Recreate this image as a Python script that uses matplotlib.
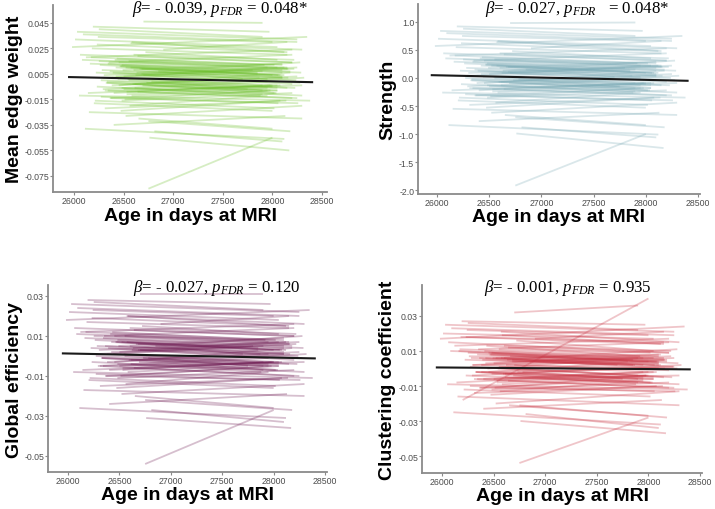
import numpy as np
import matplotlib
matplotlib.use("Agg")
import matplotlib.pyplot as plt

plt.rcParams['mathtext.fontset'] = 'custom'
plt.rcParams['mathtext.rm'] = 'Liberation Serif'
plt.rcParams['mathtext.it'] = 'Liberation Serif:italic'

# age (days) at first and last MRI for each subject
age_first = [26010, 26120, 26250, 26340, 26480, 26560, 26180, 26300, 26650, 26420,
             26050, 26230, 26380, 26510, 26600, 26700, 26150, 26280, 26450, 26550,
             26090, 26320, 26400, 26630, 26720, 26200, 26350, 26480, 26580, 26810,
             25980, 26140, 26270, 26430, 26520, 26680, 26760, 26240, 26370, 26500,
             26060, 26190, 26310, 26460, 26610, 26900, 26750, 26160, 26290, 26540,
             26030, 26210, 26360, 26470, 26640, 26330, 26570, 26110, 26410, 26750,
             26220, 26380, 26520, 26640, 26290, 26450, 26580, 26700, 26330, 26490,
             26610, 26260, 26400, 26550, 26680, 26310, 26470, 26590, 26850, 26360,
             26080, 26230, 26420, 26530, 26660, 26780, 26340, 26500, 26620, 26270,
             26440, 26570, 26690, 26390, 26530, 26170, 26480, 26600, 26730, 26250]
age_last = [28050, 28200, 27900, 28300, 28100, 27950, 28150, 28250, 28000, 27850,
            28380, 28120, 28050, 27980, 28220, 27900, 28300, 28100, 28180, 28020,
            28250, 27950, 28130, 28280, 28050, 28000, 28200, 27880, 28150, 28100,
            28350, 28080, 28230, 27920, 28300, 28060, 28170, 28000, 28260, 28120,
            28200, 27970, 28140, 28290, 28040, 28150, 28180, 28100, 28320, 27900,
            28250, 28020, 28160, 28080, 28200, 27950, 28300, 28120, 28050, 28000,
            27950, 28100, 28000, 28250, 27800, 28150, 28050, 28200, 27900, 28100,
            28300, 27850, 28000, 28150, 27950, 28200, 28080, 28250, 27700, 28050,
            28150, 27900, 28220, 28000, 28100, 27750, 28180, 27950, 28280, 28060,
            27900, 28120, 28020, 28240, 27980, 28100, 28200, 27870, 28050, 28160]

# mean edge weight
mew_first = [0.032, 0.018, 0.040, -0.008, 0.012, -0.020, 0.025, 0.004, -0.030, 0.010,
             -0.012, 0.028, 0.002, -0.015, 0.020, 0.046, -0.025, 0.008, -0.004, 0.015,
             0.036, -0.002, -0.035, 0.006, 0.022, -0.018, 0.014, -0.006, 0.030, -0.040,
             0.026, -0.010, 0.000, 0.017, -0.028, 0.009, -0.045, 0.034, -0.014, 0.003,
             0.020, 0.042, -0.022, 0.011, -0.003, 0.024, -0.032, 0.013, -0.007, 0.001,
             0.038, -0.016, 0.007, -0.024, 0.019, -0.001, 0.029, -0.038, 0.016, -0.085,
             0.006, -0.004, 0.010, -0.009, 0.002, 0.014, -0.012, 0.004, -0.002, 0.008,
             -0.006, 0.012, -0.010, 0.000, 0.005, -0.008, 0.011, -0.003, 0.007, -0.014,
             0.016, -0.005, 0.003, -0.011, 0.009, -0.001, 0.013, -0.007, 0.004, -0.013,
             0.001, 0.010, -0.004, 0.006, -0.009, 0.018, -0.016, 0.008, -0.002, 0.015]
mew_last = [0.026, 0.024, 0.034, -0.004, 0.006, -0.012, 0.020, 0.010, -0.038, 0.005,
            -0.016, 0.022, -0.004, -0.008, 0.016, 0.045, -0.030, 0.003, 0.006, 0.012,
            0.030, -0.008, -0.028, 0.014, 0.016, -0.024, 0.020, -0.012, 0.022, -0.048,
            0.034, -0.004, -0.006, 0.012, -0.020, 0.004, -0.055, 0.030, -0.018, 0.010,
            0.014, 0.038, -0.016, 0.006, -0.010, 0.030, -0.040, 0.008, 0.002, -0.004,
            0.032, -0.022, 0.002, -0.016, 0.014, -0.006, 0.024, -0.046, 0.010, -0.045,
            0.001, 0.002, 0.004, -0.014, 0.008, 0.009, -0.006, -0.003, -0.008, 0.013,
            -0.012, 0.006, -0.004, -0.006, 0.010, -0.014, 0.004, 0.003, 0.001, -0.008,
            0.010, -0.011, 0.009, -0.005, 0.002, -0.007, 0.007, -0.001, -0.002, -0.018,
            0.007, 0.004, -0.010, 0.000, -0.004, 0.012, -0.010, 0.002, -0.008, 0.009]

# strength
str_first = [0.70, 0.40, 0.88, -0.18, 0.26, -0.44, 0.55, 0.09, -0.66, 0.22,
             -0.26, 0.62, 0.04, -0.33, 0.44, 0.98, -0.55, 0.18, -0.09, 0.33,
             0.80, -0.04, -0.77, 0.13, 0.48, -0.40, 0.31, -0.13, 0.66, -0.88,
             0.57, -0.22, 0.00, 0.37, -0.62, 0.20, -0.99, 0.75, -0.31, 0.07,
             0.44, 0.92, -0.48, 0.24, -0.07, 0.53, -0.70, 0.29, -0.15, 0.02,
             0.84, -0.35, 0.15, -0.53, 0.42, -0.02, 0.64, -0.84, 0.35, -1.92,
             0.13, -0.09, 0.22, -0.20, 0.04, 0.31, -0.26, 0.09, -0.04, 0.18,
             -0.13, 0.26, -0.22, 0.00, 0.11, -0.18, 0.24, -0.07, 0.15, -0.31,
             0.35, -0.11, 0.07, -0.24, 0.20, -0.02, 0.29, -0.15, 0.09, -0.29,
             0.02, 0.22, -0.09, 0.13, -0.20, 0.40, -0.35, 0.18, -0.04, 0.33]
str_last = [0.57, 0.53, 0.75, -0.09, 0.13, -0.26, 0.44, 0.22, -0.84, 0.11,
            -0.35, 0.48, -0.09, -0.18, 0.35, 0.99, -0.66, 0.07, 0.13, 0.26,
            0.66, -0.18, -0.62, 0.31, 0.35, -0.53, 0.44, -0.26, 0.48, -1.06,
            0.75, -0.09, -0.13, 0.26, -0.44, 0.09, -1.25, 0.66, -0.40, 0.22,
            0.31, 0.84, -0.35, 0.13, -0.22, 0.66, -0.88, 0.18, 0.04, -0.09,
            0.70, -0.48, 0.04, -0.35, 0.31, -0.13, 0.53, -1.01, 0.22, -1.00,
            0.02, 0.04, 0.09, -0.31, 0.18, 0.20, -0.13, -0.07, -0.18, 0.29,
            -0.26, 0.13, -0.09, -0.13, 0.22, -0.31, 0.09, 0.07, 0.02, -0.18,
            0.22, -0.24, 0.20, -0.11, 0.04, -0.15, 0.15, -0.02, -0.04, -0.40,
            0.15, 0.09, -0.22, 0.00, -0.09, 0.26, -0.22, 0.04, -0.18, 0.20]

# global efficiency
geff_first = [0.022, 0.012, 0.027, -0.005, 0.008, -0.014, 0.017, 0.003, -0.020, 0.007,
              -0.008, 0.019, 0.001, -0.010, 0.014, 0.031, -0.017, 0.005, -0.003, 0.010,
              0.024, -0.001, -0.024, 0.004, 0.015, -0.012, 0.010, -0.004, 0.020, -0.027,
              0.018, -0.007, 0.000, 0.012, -0.019, 0.006, -0.031, 0.023, -0.010, 0.002,
              0.014, 0.028, -0.015, 0.007, -0.002, 0.016, -0.022, 0.009, -0.005, 0.001,
              0.026, -0.011, 0.005, -0.016, 0.013, -0.001, 0.020, -0.026, 0.011, -0.054,
              0.004, -0.003, 0.007, -0.006, 0.001, 0.010, -0.008, 0.003, -0.001, 0.005,
              -0.004, 0.008, -0.007, 0.000, 0.003, -0.005, 0.007, -0.002, 0.005, -0.010,
              0.011, -0.003, 0.002, -0.007, 0.006, -0.001, 0.009, -0.005, 0.003, -0.009,
              0.001, 0.007, -0.003, 0.004, -0.006, 0.012, -0.011, 0.005, -0.001, 0.010]
geff_last = [0.018, 0.016, 0.023, -0.003, 0.004, -0.008, 0.014, 0.007, -0.026, 0.003,
             -0.011, 0.015, -0.003, -0.005, 0.011, 0.031, -0.020, 0.002, 0.004, 0.008,
             0.020, -0.005, -0.019, 0.010, 0.011, -0.016, 0.014, -0.008, 0.015, -0.033,
             0.023, -0.003, -0.004, 0.008, -0.014, 0.003, -0.036, 0.020, -0.012, 0.007,
             0.010, 0.026, -0.011, 0.004, -0.007, 0.020, -0.027, 0.005, 0.001, -0.003,
             0.022, -0.015, 0.001, -0.011, 0.010, -0.004, 0.016, -0.031, 0.007, -0.027,
             0.001, 0.001, 0.003, -0.010, 0.005, 0.006, -0.004, -0.002, -0.005, 0.009,
             -0.008, 0.004, -0.003, -0.004, 0.007, -0.010, 0.003, 0.002, 0.001, -0.005,
             0.007, -0.007, 0.006, -0.003, 0.001, -0.005, 0.005, -0.001, -0.001, -0.012,
             0.005, 0.003, -0.007, 0.000, -0.003, 0.008, -0.007, 0.001, -0.005, 0.006]

# clustering coefficient
clus_first = [0.020, 0.013, 0.026, -0.006, 0.009, -0.013, 0.018, 0.002, -0.021, 0.006,
              -0.009, 0.018, 0.002, -0.011, 0.013, 0.032, -0.016, 0.006, -0.002, 0.011,
              0.023, -0.002, -0.023, 0.005, 0.016, -0.018, 0.011, -0.003, 0.019, -0.026,
              0.017, -0.008, 0.001, 0.013, -0.020, 0.005, -0.030, 0.022, -0.011, 0.003,
              0.015, 0.027, -0.014, 0.008, -0.003, 0.017, -0.021, 0.010, -0.004, 0.000,
              0.025, -0.012, 0.006, -0.015, 0.012, -0.002, 0.021, -0.025, 0.010, -0.054,
              0.005, -0.002, 0.006, -0.007, 0.002, 0.009, -0.009, 0.002, -0.002, 0.006,
              -0.005, 0.007, -0.006, 0.001, 0.004, -0.006, 0.008, -0.003, 0.004, -0.011,
              0.010, -0.004, 0.003, -0.008, 0.007, -0.002, 0.008, -0.006, 0.002, -0.010,
              0.000, 0.006, -0.004, 0.005, -0.007, 0.011, -0.012, 0.006, -0.002, 0.009]
clus_last = [0.017, 0.017, 0.022, -0.004, 0.003, -0.007, 0.015, 0.006, -0.027, 0.002,
             -0.012, 0.014, -0.002, -0.004, 0.010, 0.036, -0.021, 0.003, 0.005, 0.009,
             0.019, -0.006, -0.018, 0.011, 0.010, 0.040, 0.015, -0.009, 0.014, -0.034,
             0.024, -0.002, -0.005, 0.007, -0.013, 0.002, -0.037, 0.019, -0.013, 0.008,
             0.009, 0.025, -0.010, 0.003, -0.008, 0.021, -0.028, 0.004, 0.002, -0.004,
             0.021, -0.016, 0.000, -0.010, 0.009, -0.005, 0.015, -0.032, 0.006, -0.028,
             0.002, 0.000, 0.004, -0.011, 0.004, 0.005, -0.005, -0.001, -0.006, 0.008,
             -0.009, 0.005, -0.002, -0.005, 0.006, -0.011, 0.004, 0.001, 0.002, -0.006,
             0.006, -0.008, 0.007, -0.004, 0.002, -0.006, 0.004, -0.002, 0.000, -0.013,
             0.006, 0.002, -0.008, 0.001, -0.004, 0.007, -0.008, 0.002, -0.006, 0.005]

# group-level fit lines (end points)
fit_age = [25950, 28400]
mew_fit = [0.0025, -0.0015]
str_fit = [0.05, -0.05]
geff_fit = [0.0013, -0.0012]
clus_fit = [0.0006, -0.0005]

xticks = [26000, 26500, 27000, 27500, 28000, 28500]
mew_ticks = [0.045, 0.025, 0.005, -0.015, -0.035, -0.055, -0.075]
mew_labels = ["0.045", "0.025", "0.005", "-0.015", "-0.035", "-0.055", "-0.075"]
str_ticks = [1.0, 0.5, 0.0, -0.5, -1.0, -1.5, -2.0]
str_labels = ["1.0", "0.5", "0.0", "-0.5", "-1.0", "-1.5", "-2.0"]
small_ticks = [0.03, 0.01, -0.01, -0.03, -0.05]
small_labels = ["0.03", "0.01", "-0.01", "-0.03", "-0.05"]

stats = [r"$\beta$= - 0.039, $p_{FDR}$ = 0.048*",
         r"$\beta$= - 0.027, $p_{FDR}$   = 0.048*",
         r"$\beta$= - 0.027, $p_{FDR}$ = 0.120",
         r"$\beta$= - 0.001, $p_{FDR}$ = 0.935"]

W, H = 715, 510
fig = plt.figure(figsize=(W / 100, H / 100), dpi=100)


def px_axes(left, top, right, bottom):
    return fig.add_axes([left / W, 1 - bottom / H, (right - left) / W, (bottom - top) / H])


panels = [
    dict(box=(53, 6, 327, 193), xlim=(25788, 28550), ylim=(-0.0876, 0.059),
         first=mew_first, last=mew_last, fit=mew_fit, color="#6cbf2a",
         yt=mew_ticks, ytl=mew_labels, ylabel="Mean edge weight",
         ylab_x=15, xlab_y=221, stat=stats[0], stat_xy=(220, 13)),
    dict(box=(418, 5, 700, 195), xlim=(25818, 28519), ylim=(-2.07, 1.32),
         first=str_first, last=str_last, fit=str_fit, color="#7aaab6",
         yt=str_ticks, ytl=str_labels, ylabel="Strength",
         ylab_x=388, xlab_y=222, stat=stats[1], stat_xy=(577, 13)),
    dict(box=(48, 286, 327, 473), xlim=(25805, 28519), ylim=(-0.058, 0.0355),
         first=geff_first, last=geff_last, fit=geff_fit, color="#6e1a52",
         yt=small_ticks, ytl=small_labels, ylabel="Global efficiency",
         ylab_x=15, xlab_y=500, stat=stats[2], stat_xy=(217, 292)),
    dict(box=(422, 286, 702, 474), xlim=(25806, 28519), ylim=(-0.0597, 0.0477),
         first=clus_first, last=clus_last, fit=clus_fit, color="#c8303f",
         yt=small_ticks, ytl=small_labels, ylabel="Clustering coefficient",
         ylab_x=388, xlab_y=501, stat=stats[3], stat_xy=(568, 292)),
]

for p in panels:
    ax = px_axes(*p["box"])
    for i in range(len(age_first)):
        ax.plot([age_first[i], age_last[i]], [p["first"][i], p["last"][i]],
                color=p["color"], alpha=0.28, lw=1.3, solid_capstyle="butt")
    ax.plot(fit_age, p["fit"], color="#1a1a1a", lw=1.5)
    ax.set_xlim(*p["xlim"])
    ax.set_ylim(*p["ylim"])
    ax.set_xticks(xticks)
    ax.set_xticklabels([str(t) for t in xticks])
    ax.set_yticks(p["yt"])
    ax.set_yticklabels(p["ytl"])
    for s in ["top", "right"]:
        ax.spines[s].set_visible(False)
    for s in ["left", "bottom"]:
        ax.spines[s].set_color("#8a8a8a")
        ax.spines[s].set_linewidth(1.3)
    ax.tick_params(length=2, width=0.8, color="#8a8a8a", labelcolor="#4d4d4d",
                   labelsize=6.3, pad=0.8)
    for lab in ax.get_xticklabels() + ax.get_yticklabels():
        lab.set_family("Liberation Sans")
    l, t, r, b = p["box"]
    fig.text(p["ylab_x"] / W, 1 - (t + b) / 2 / H, p["ylabel"], rotation=90,
             ha="center", va="center", fontsize=14, fontweight="bold",
             family="Liberation Sans")
    fig.text((l + r) / 2 / W, 1 - p["xlab_y"] / H, "Age in days at MRI",
             ha="center", va="baseline", fontsize=14, fontweight="bold",
             family="Liberation Sans")
    sx, sy = p["stat_xy"]
    fig.text(sx / W, 1 - sy / H, p["stat"], ha="center", va="baseline",
             fontsize=12.2, family="Liberation Serif")

fig.savefig("out.png", dpi=100)
